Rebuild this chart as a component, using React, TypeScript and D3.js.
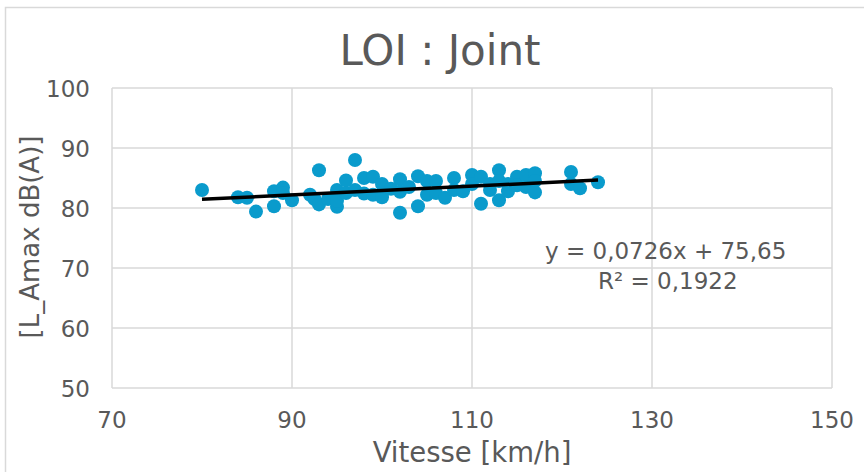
import React, { useEffect, useRef } from 'react';
import * as d3 from 'd3';

// vitesse (km/h) et niveau L_Amax (dB(A))
const vitesse = [
  80, 84, 85, 86, 88, 88, 89, 89, 90, 92, 92.5, 93, 93, 94, 95, 95, 95, 96, 96, 97,
  97, 98, 98, 99, 99, 100, 100, 101, 102, 102, 102, 103, 104, 104, 105, 105, 106, 106, 107, 108,
  108, 109, 110, 110, 111, 111, 112, 112, 113, 113, 113, 114, 114, 115, 115, 116, 116, 117, 117, 117,
  121, 121, 122, 124,
];
const lamax = [
  83.0, 81.8, 81.7, 79.4, 82.8, 80.3, 83.4, 82.5, 81.3, 82.2, 81.5, 86.3, 80.6, 81.5, 83.0, 80.2, 81.2, 84.6, 82.5, 88.0,
  83.0, 85.0, 82.4, 85.2, 82.2, 84.0, 81.8, 83.2, 84.8, 79.2, 82.7, 83.5, 85.3, 80.3, 84.5, 82.2, 84.5, 82.5, 81.7, 85.0,
  83.0, 82.8, 85.5, 84.0, 85.2, 80.7, 84.0, 83.0, 86.3, 81.3, 84.5, 82.8, 84.0, 85.2, 83.8, 85.5, 83.5, 85.8, 84.5, 82.6,
  86.0, 84.0, 83.3, 84.3,
];

// courbe de tendance linéaire (y = a x + b)
const trendCoef = [0.0726, 75.65];
const trendLabels = ['y = 0,0726x + 75,65', 'R² = 0,1922'];

const xTicks = [70, 90, 110, 130, 150];
const yTicks = [50, 60, 70, 80, 90, 100];

const App = () => {
  const svgRef = useRef<SVGSVGElement>(null);

  useEffect(() => {
    const width = 864;
    const height = 472;
    const marginLeft = 112;
    const marginRight = 32;
    const marginTop = 88;
    const marginBottom = 84;
    const font = "'DejaVu Sans', Verdana, sans-serif";
    const grey = '#595959';

    const svg = d3.select(svgRef.current);
    svg.selectAll('*').remove();

    const x = d3.scaleLinear().domain([70, 150]).range([marginLeft, width - marginRight]);
    const y = d3.scaleLinear().domain([50, 100]).range([height - marginBottom, marginTop]);

    // cadre du graphique
    svg.append('rect')
      .attr('x', 5.5).attr('y', 7.5)
      .attr('width', width + 10).attr('height', height + 10)
      .attr('fill', '#fff')
      .attr('stroke', '#d9d9d9')
      .attr('stroke-width', 1.5);

    // grille
    svg.append('g')
      .selectAll('line')
      .data(yTicks)
      .join('line')
      .attr('x1', x(70)).attr('x2', x(150))
      .attr('y1', (d) => y(d)).attr('y2', (d) => y(d))
      .attr('stroke', '#d9d9d9')
      .attr('stroke-width', 1.5);
    svg.append('g')
      .selectAll('line')
      .data(xTicks)
      .join('line')
      .attr('x1', (d) => x(d)).attr('x2', (d) => x(d))
      .attr('y1', y(50)).attr('y2', y(100))
      .attr('stroke', '#d9d9d9')
      .attr('stroke-width', 1.5);

    // étiquettes des axes
    svg.append('g')
      .selectAll('text')
      .data(yTicks)
      .join('text')
      .attr('x', 90)
      .attr('y', (d) => y(d) + 8.5)
      .attr('text-anchor', 'end')
      .attr('font-family', font)
      .attr('font-size', 23)
      .attr('fill', grey)
      .text((d) => d);
    svg.append('g')
      .selectAll('text')
      .data(xTicks)
      .join('text')
      .attr('x', (d) => x(d))
      .attr('y', 428)
      .attr('text-anchor', 'middle')
      .attr('font-family', font)
      .attr('font-size', 23)
      .attr('fill', grey)
      .text((d) => d);

    // points
    const pts = vitesse.map((v, i) => ({ v, l: lamax[i] }));
    svg.append('g')
      .attr('fill', '#0a9bcc')
      .selectAll('circle')
      .data(pts)
      .join('circle')
      .attr('cx', (d) => x(d.v))
      .attr('cy', (d) => y(d.l))
      .attr('r', 7);

    // tendance
    const [a, b] = trendCoef;
    const xs = d3.extent(vitesse) as [number, number];
    svg.append('path')
      .attr('d', d3.line<number>().x((d) => x(d)).y((d) => y(a * d + b))(xs))
      .attr('stroke', '#000')
      .attr('stroke-width', 3.5)
      .attr('fill', 'none');

    svg.append('g')
      .selectAll('text')
      .data(trendLabels)
      .join('text')
      .attr('x', (d, i) => (i === 0 ? 545 : 598))
      .attr('y', (d, i) => 259 + i * 30)
      .attr('font-family', font)
      .attr('font-size', 23)
      .attr('fill', grey)
      .text((d) => d);

    // titres
    svg.append('text')
      .attr('x', 440).attr('y', 65)
      .attr('text-anchor', 'middle')
      .attr('font-family', font)
      .attr('font-size', 42)
      .attr('fill', grey)
      .text('LOI : Joint');
    svg.append('text')
      .attr('x', 472).attr('y', 462)
      .attr('text-anchor', 'middle')
      .attr('font-family', font)
      .attr('font-size', 27.5)
      .attr('fill', grey)
      .text('Vitesse [km/h]');
    svg.append('text')
      .attr('transform', 'translate(39,237) rotate(-90)')
      .attr('text-anchor', 'middle')
      .attr('font-family', font)
      .attr('font-size', 26)
      .attr('fill', grey)
      .text('[L_Amax dB(A)]');
  }, []);

  return (
    <svg
      ref={svgRef}
      width={864}
      height={472}
      style={{ position: 'absolute', left: 0, top: 0, display: 'block' }}
    />
  );
};

export default App;
